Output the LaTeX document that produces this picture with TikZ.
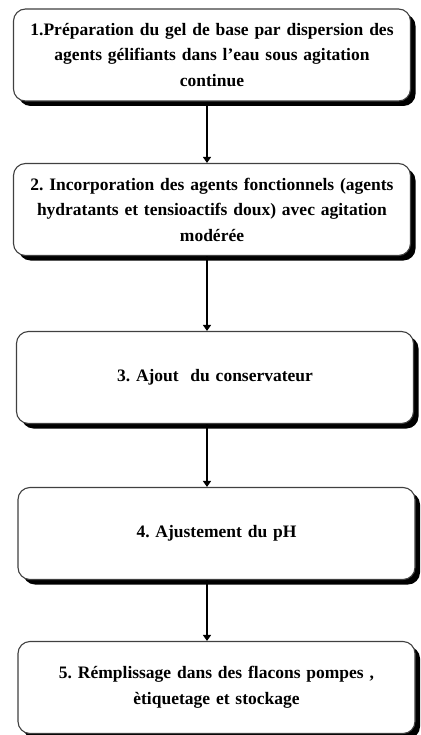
\documentclass[tikz,border=0pt]{standalone}
\usepackage{fontspec}
\setmainfont{Liberation Serif}
\usetikzlibrary{positioning}
\usetikzlibrary{shadows}
\usetikzlibrary{arrows.meta}
\frenchspacing
\tikzset{
	stepbox/.style={draw=black!75, line width=1.1pt, rounded corners=12pt, fill=white,
		minimum width=397pt, minimum height=92pt, text width=390pt, align=center,
		font=\fontsize{17.5}{25.5}\selectfont\bfseries,
		drop shadow={shadow xshift=5pt, shadow yshift=-5pt, fill=black, opacity=1}},
	flow/.style={-{Triangle[length=6pt,width=8pt]}, line width=1.4pt},
}

\begin{document}
\begin{tikzpicture}[x=1pt,y=1pt]
	\useasboundingbox (0,0) rectangle (420,-735);
	
	% arrow axis......................
	\coordinate (axis) at (207,0);
	
	% steps...........................
	\node [stepbox] (gel) at (212,-55) {1.Préparation du gel de base par dispersion des\\ agents gélifiants dans l'eau sous agitation\\ continue};
	\node [stepbox] (mix) at (212,-209.5) {2. Incorporation des agents fonctionnels (agents\\ hydratants et tensioactifs doux) avec agitation\\ modérée};
	\node [stepbox] (cons) at (215,-377.5) {3. Ajout~~du conservateur};
	\node [stepbox] (ph) at (216.5,-533.5) {4. Ajustement du pH};
	\node [stepbox] (fill) at (216.5,-687.5) {5. Rémplissage dans des flacons pompes ,\\ ètiquetage et stockage};
	
	% arrows..........................
	\draw [flow] (gel.south -| axis) to (mix.north -| axis);
	\draw [flow] (mix.south -| axis) to (cons.north -| axis);
	\draw [flow] (cons.south -| axis) to (ph.north -| axis);
	\draw [flow] (ph.south -| axis) to (fill.north -| axis);
\end{tikzpicture}
\end{document}
